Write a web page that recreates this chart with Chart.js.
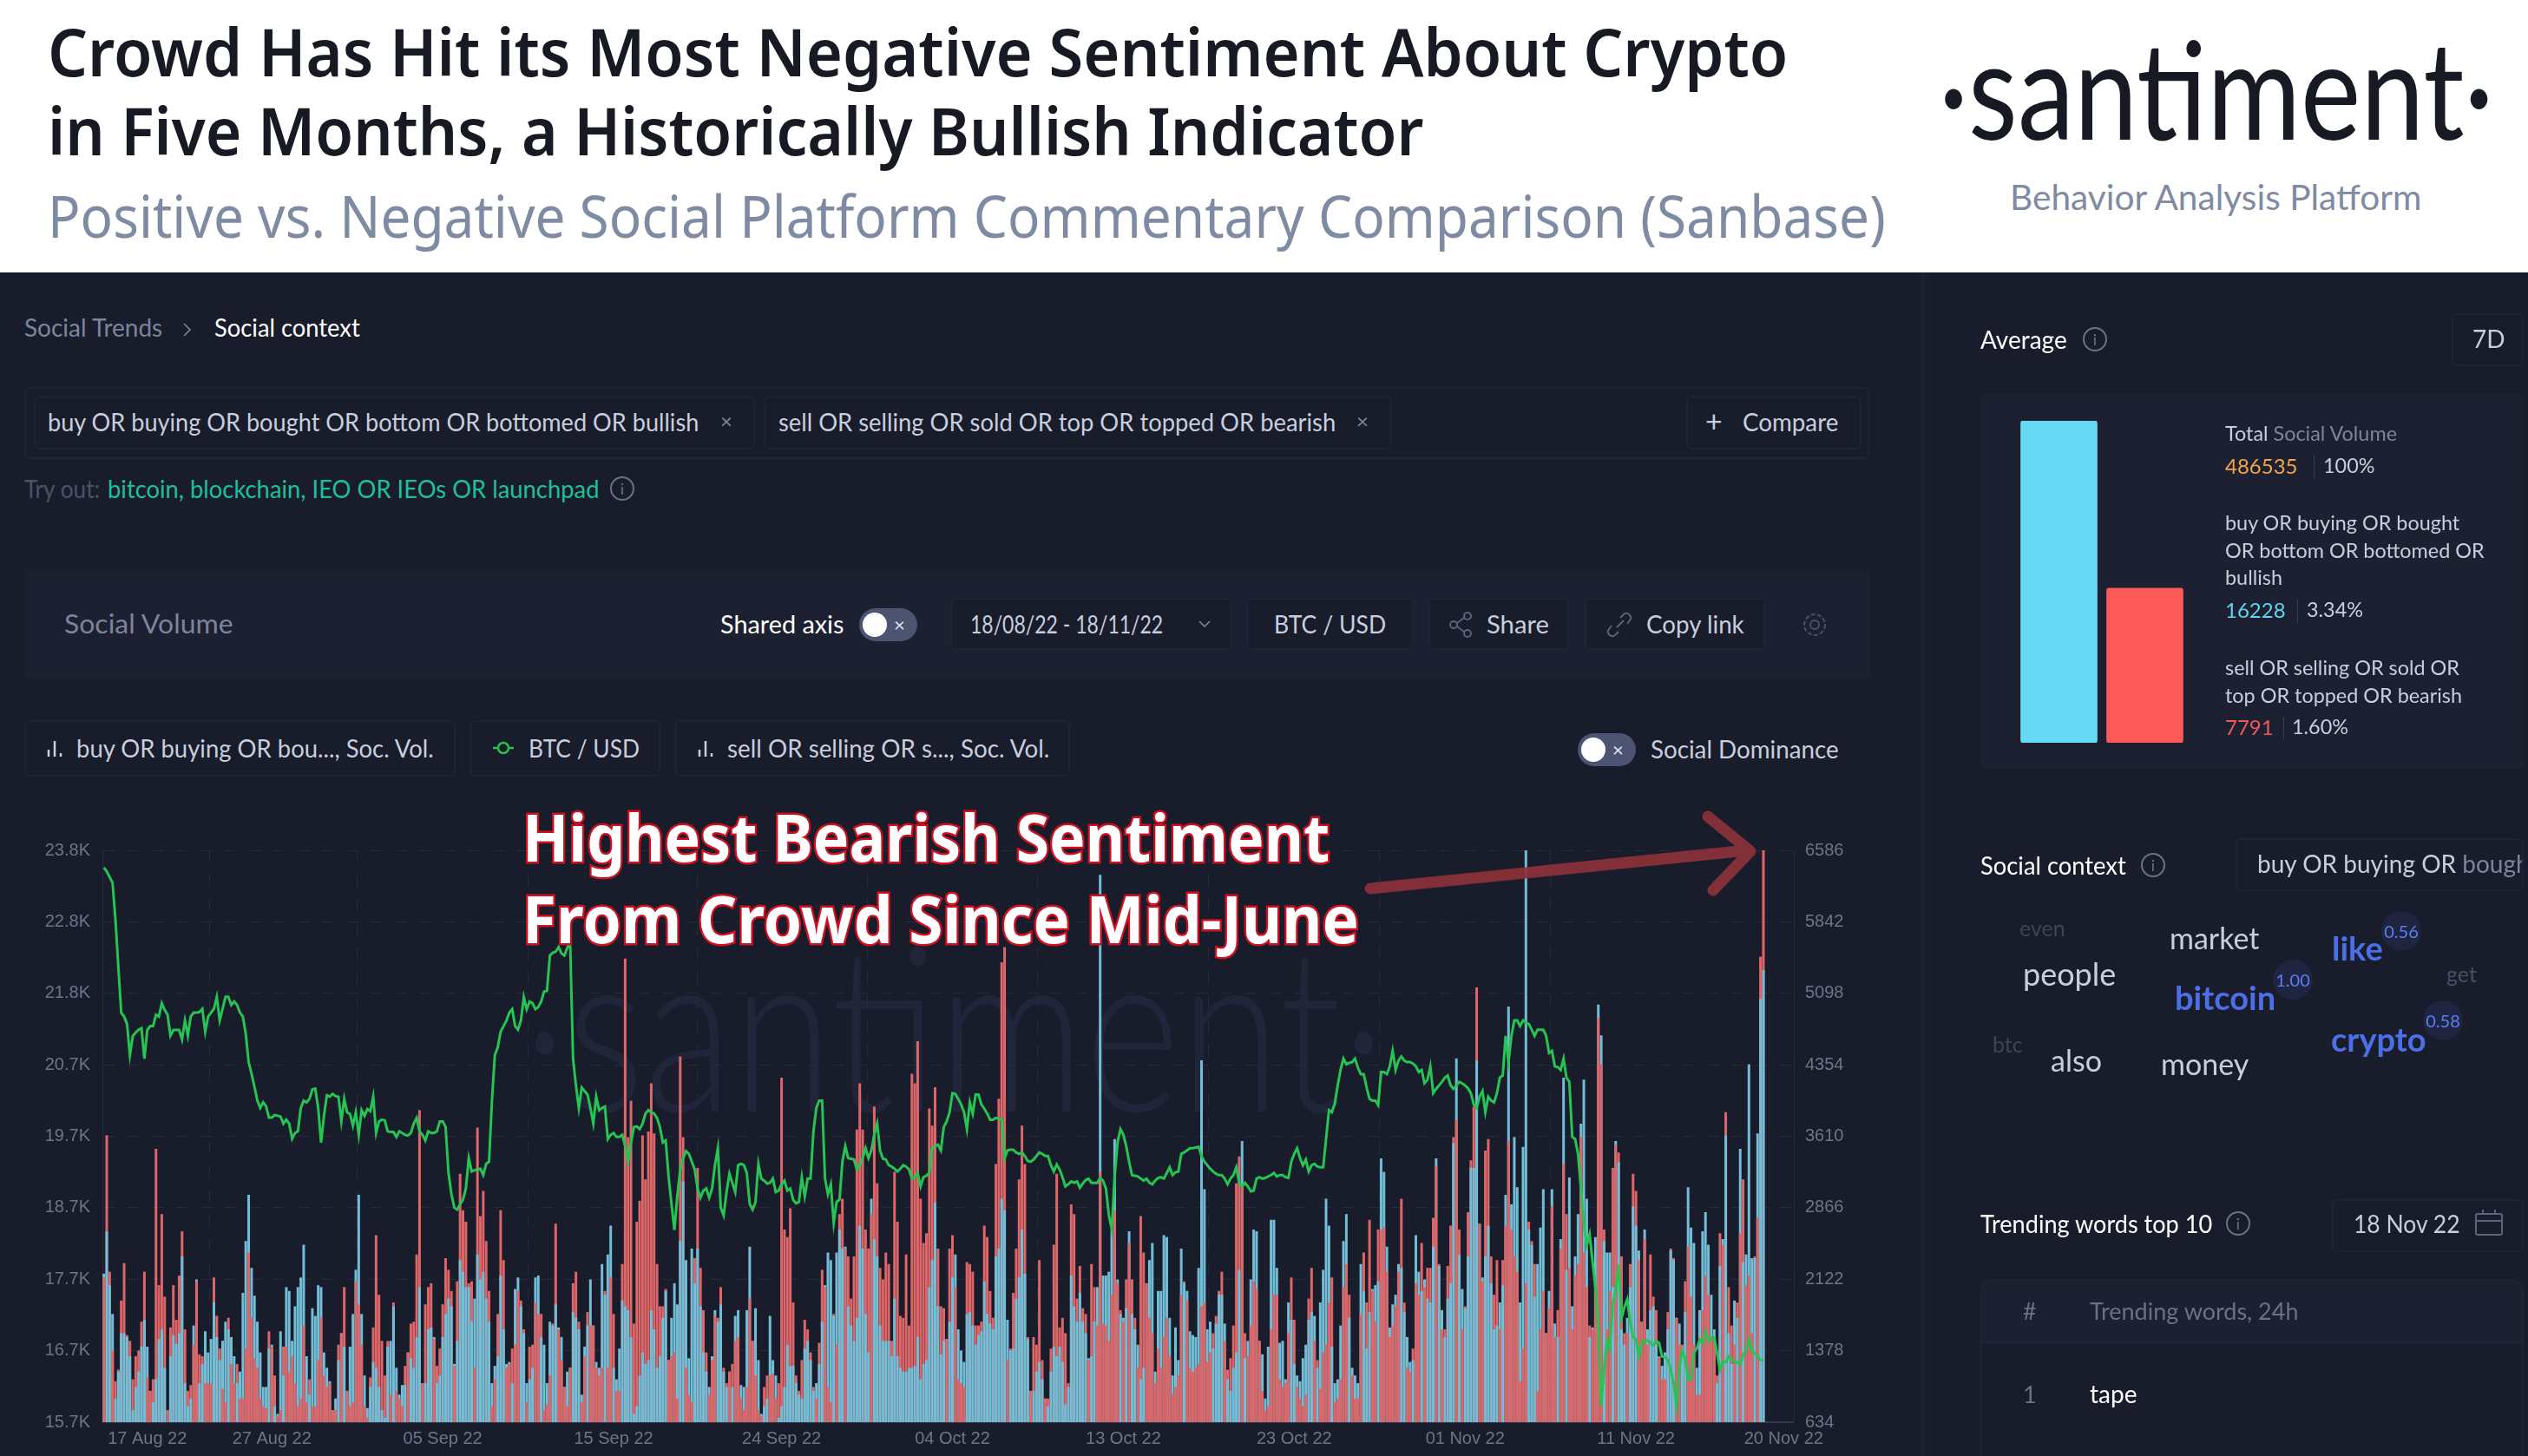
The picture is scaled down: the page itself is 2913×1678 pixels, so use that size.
<!DOCTYPE html>
<html>
<head>
<meta charset="utf-8">
<title>Crowd Has Hit its Most Negative Sentiment About Crypto</title>
<script src="https://cdn.jsdelivr.net/npm/chart.js@4"></script>
<style>
html, body { margin: 0; padding: 0; }
body { width: 2913px; height: 1678px; position: relative; overflow: hidden; background: #181c2b; font-family: Lato, sans-serif; color: #fff; }
.t { position: absolute; white-space: nowrap; line-height: 1; transform: translateY(calc(-50% - 2px)); transform-origin: left center; }
.box { position: absolute; box-sizing: border-box; border: 2px solid #1f2435; border-radius: 6px; }
.fill { position: absolute; }
.info { position: absolute; width: 28px; height: 28px; box-sizing: border-box; border: 2px solid #6b7187; border-radius: 50%; color: #6b7187; font-size: 18px; line-height: 24px; text-align: center; transform: translate(-50%, -50%); }
.toggle { position: absolute; width: 67px; height: 38px; border-radius: 19px; background: #4d5472; transform: translateY(-50%); }
.toggle:before { content: ""; position: absolute; left: 4px; top: 5px; width: 28px; height: 28px; border-radius: 50%; background: #fff; }
.toggle:after { content: "×"; position: absolute; left: 40px; top: 7px; font-size: 22px; line-height: 24px; color: #e3e6ef; }
.badge { position: absolute; width: 46px; height: 46px; border-radius: 50%; background: #1f2540; color: #5d7df0; font-size: 20px; line-height: 46px; text-align: center; transform: translate(-50%, -50%); }
.dim { color: #7d859c; }
.soft { color: #c9cede; }
.blue { color: #4c6fe8; font-weight: 700; }
svg { position: absolute; overflow: visible; }
canvas { position: absolute; }
</style>
</head>
<body>

<!-- white header -->
<div class="fill" style="left:0;top:0;width:2913px;height:314px;background:#fff"></div>
<div class="t" data-w="2005" style="left:55px;top:60px;font:600 76px 'Noto Sans';color:#171a22">Crowd Has Hit its Most Negative Sentiment About Crypto</div>
<div class="t" data-w="1585" style="left:55px;top:151px;font:600 76px 'Noto Sans';color:#171a22">in Five Months, a Historically Bullish Indicator</div>
<div class="t" data-w="2118" style="left:55px;top:249px;font:400 68px 'Noto Sans';color:#7f8ba3">Positive vs. Negative Social Platform Commentary Comparison (Sanbase)</div>
<div class="t" data-w="640" style="left:2234px;top:102px;font:400 158px Lato;color:#171a22">·santiment·</div>
<div class="t" data-w="474" style="left:2316px;top:229px;font:400 40px Lato;color:#7f8ba3">Behavior Analysis Platform</div>

<!-- left column -->
<div class="fill" style="left:2215px;top:314px;width:2px;height:1364px;background:#1e2232"></div>
<div class="t dim" style="left:28px;top:379px;font-size:28px">Social Trends</div>
<svg style="left:210px;top:372px" width="12" height="16" fill="none" stroke="#7d859c" stroke-width="1.6"><path d="M2 1l7 7-7 7"/></svg>
<div class="t" data-w="168" style="left:247px;top:379px;font-size:28px">Social context</div>

<div class="box" style="left:28px;top:446px;width:2126px;height:83px"></div>
<div class="box" style="left:39px;top:456px;width:831px;height:62px"></div>
<div class="t soft" data-w="750" style="left:55px;top:488px;font-size:28px">buy OR buying OR bought OR bottom OR bottomed OR bullish</div>
<div class="t dim" style="left:830px;top:487px;font-size:24px">×</div>
<div class="box" style="left:880px;top:456px;width:724px;height:62px"></div>
<div class="t soft" data-w="642" style="left:897px;top:488px;font-size:28px">sell OR selling OR sold OR top OR topped OR bearish</div>
<div class="t dim" style="left:1563px;top:487px;font-size:24px">×</div>
<div class="box" style="left:1943px;top:456px;width:202px;height:62px"></div>
<div class="t soft" style="left:1965px;top:487px;font-size:34px">+</div>
<div class="t soft" data-w="110" style="left:2008px;top:488px;font-size:28px">Compare</div>

<div class="t" data-w="87" style="left:28px;top:565px;font-size:28px;color:#4d5367">Try out:</div>
<div class="t" data-w="566" style="left:124px;top:565px;font-size:28px;color:#1fbf9b">bitcoin, blockchain, IEO OR IEOs OR launchpad</div>
<div class="info" style="left:717px;top:563px">i</div>

<div class="fill" style="left:28px;top:657px;width:2127px;height:124px;background:#1c2030"></div>
<div class="t dim" data-w="195" style="left:74px;top:720px;font-size:30px">Social Volume</div>
<div class="t" data-w="142" style="left:830px;top:721px;font-size:28px">Shared axis</div>
<div class="toggle" style="left:990px;top:720px"></div>
<div class="box" style="left:1095px;top:689px;width:324px;height:60px;background:#181c2b"></div>
<div class="t soft" data-w="222" style="left:1118px;top:721px;font-size:28px">18/08/22 - 18/11/22</div>
<svg style="left:1381px;top:715px" width="14" height="9" fill="none" stroke="#7d859c" stroke-width="1.6"><path d="M1 1l6 6 6-6"/></svg>
<div class="box" style="left:1437px;top:689px;width:192px;height:60px;background:#181c2b"></div>
<div class="t soft" data-w="129" style="left:1468px;top:721px;font-size:28px">BTC / USD</div>
<div class="box" style="left:1646px;top:689px;width:162px;height:60px;background:#181c2b"></div>
<svg style="left:1670px;top:705px" width="28" height="30" fill="none" stroke="#5d6379" stroke-width="2"><circle cx="21" cy="5" r="4"/><circle cx="5" cy="15" r="4"/><circle cx="21" cy="25" r="4"/><path d="M9 13l8-6M9 17l8 6"/></svg>
<div class="t soft" data-w="72" style="left:1713px;top:721px;font-size:28px">Share</div>
<div class="box" style="left:1826px;top:689px;width:208px;height:60px;background:#181c2b"></div>
<svg style="left:1851px;top:705px" width="30" height="30" fill="none" stroke="#5d6379" stroke-width="2"><path d="M12 18l8-8M6 16l-3 4a5 5 0 0 0 7 7l4-4M24 14l3-4a5 5 0 0 0-7-7l-4 4"/></svg>
<div class="t soft" data-w="113" style="left:1897px;top:721px;font-size:28px">Copy link</div>
<svg style="left:2076px;top:705px" width="30" height="30" fill="none" stroke="#4b5066" stroke-width="2"><circle cx="15" cy="15" r="5"/><circle cx="15" cy="15" r="12" stroke-dasharray="5 2.4"/></svg>

<div class="box" style="left:28px;top:830px;width:497px;height:65px"></div>
<svg style="left:54px;top:852px" width="18" height="20" stroke="#c9cede" stroke-width="2.5"><path d="M2 20v-8M9 20V2M16 20v-4"/></svg>
<div class="t soft" data-w="412" style="left:88px;top:864px;font-size:28px">buy OR buying OR bou..., Soc. Vol.</div>
<div class="box" style="left:542px;top:830px;width:219px;height:65px"></div>
<svg style="left:568px;top:852px" width="24" height="20" fill="none" stroke="#26c14f" stroke-width="2.5"><circle cx="12" cy="10" r="6"/><path d="M0 10h6M18 10h6"/></svg>
<div class="t soft" data-w="128" style="left:609px;top:864px;font-size:28px">BTC / USD</div>
<div class="box" style="left:778px;top:830px;width:455px;height:65px"></div>
<svg style="left:804px;top:852px" width="18" height="20" stroke="#c9cede" stroke-width="2.5"><path d="M2 20v-8M9 20V2M16 20v-4"/></svg>
<div class="t soft" data-w="371" style="left:838px;top:864px;font-size:28px">sell OR selling OR s..., Soc. Vol.</div>
<div class="toggle" style="left:1818px;top:864px"></div>
<div class="t soft" data-w="217" style="left:1902px;top:865px;font-size:28px">Social Dominance</div>

<!-- watermark sits under the transparent canvas -->
<div class="t" data-w="995" style="left:602px;top:1180px;font:300 265px Lato;color:#20253a">·santiment·</div>
<canvas id="volume-chart" style="left:0;top:940px" width="2213" height="738"></canvas>

<!-- annotation -->
<div class="t" data-w="930" style="left:602px;top:965px;font:700 76px 'Noto Sans';color:#fff;-webkit-text-stroke:5px #cf1020;paint-order:stroke fill">Highest Bearish Sentiment</div>
<div class="t" data-w="964" style="left:602px;top:1059px;font:700 76px 'Noto Sans';color:#fff;-webkit-text-stroke:5px #cf1020;paint-order:stroke fill">From Crowd Since Mid-June</div>
<svg style="left:0;top:0;opacity:.93" width="2913" height="1678" fill="none" stroke="#8b3039" stroke-width="13" stroke-linecap="round" stroke-linejoin="round"><path d="M1579 1024L2014 980M1968 941L2017 981L1974 1026"/></svg>

<!-- right column -->
<div class="t" style="left:2282px;top:393px;font-size:28px">Average</div>
<div class="info" style="left:2414px;top:391px">i</div>
<div class="box" style="left:2825px;top:361px;width:83px;height:61px"></div>
<div class="t soft" style="left:2849px;top:392px;font-size:28px">7D</div>
<div class="fill" style="left:2282px;top:454px;width:626px;height:432px;background:#1c2030;border-radius:6px"></div>
<canvas id="average-chart" style="left:2323px;top:485px" width="198" height="371"></canvas>
<div class="t" style="left:2564px;top:502px;font-size:23.4px"><span class="soft">Total</span> <span class="dim">Social Volume</span></div>
<div class="t" style="left:2564px;top:539px;font-size:24px;color:#f0a54c">486535</div>
<div class="fill" style="left:2666px;top:525px;width:1px;height:26px;background:#3a3f54"></div>
<div class="t soft" style="left:2677px;top:539px;font-size:23.4px">100%</div>
<div class="t soft" style="left:2564px;top:605px;font-size:23.4px">buy OR buying OR bought</div>
<div class="t soft" style="left:2564px;top:637px;font-size:23.4px">OR bottom OR bottomed OR</div>
<div class="t soft" style="left:2564px;top:668px;font-size:23.4px">bullish</div>
<div class="t" style="left:2564px;top:705px;font-size:24px;color:#5fd5f0">16228</div>
<div class="fill" style="left:2647px;top:691px;width:1px;height:26px;background:#3a3f54"></div>
<div class="t soft" style="left:2658px;top:705px;font-size:23.4px">3.34%</div>
<div class="t soft" style="left:2564px;top:772px;font-size:23.4px">sell OR selling OR sold OR</div>
<div class="t soft" style="left:2564px;top:804px;font-size:23.4px">top OR topped OR bearish</div>
<div class="t" style="left:2564px;top:840px;font-size:24px;color:#ef5a5a">7791</div>
<div class="fill" style="left:2631px;top:826px;width:1px;height:26px;background:#3a3f54"></div>
<div class="t soft" style="left:2641px;top:840px;font-size:23.4px">1.60%</div>

<div class="t" data-w="168" style="left:2282px;top:999px;font-size:28px">Social context</div>
<div class="info" style="left:2481px;top:997px">i</div>
<div class="box" style="left:2576px;top:966px;width:332px;height:61px;overflow:hidden">
  <div class="t soft" style="left:23px;top:29px;font-size:28px">buy OR buying OR <span style="color:#7d859c">bought</span></div>
</div>
<div class="t" style="left:2327px;top:1071px;font-size:25px;color:#3e4357">even</div>
<div class="t soft" style="left:2500px;top:1083px;font-size:34px">market</div>
<div class="t soft" style="left:2331px;top:1124px;font-size:36px">people</div>
<div class="t blue" style="left:2506px;top:1151px;font-size:38px">bitcoin</div>
<div class="t blue" style="left:2687px;top:1094px;font-size:38px">like</div>
<div class="t" style="left:2819px;top:1124px;font-size:25px;color:#4a4f63">get</div>
<div class="t blue" style="left:2686px;top:1199px;font-size:38px">crypto</div>
<div class="t" style="left:2296px;top:1205px;font-size:25px;color:#3e4357">btc</div>
<div class="t soft" style="left:2363px;top:1224px;font-size:34px">also</div>
<div class="t soft" style="left:2490px;top:1228px;font-size:34px">money</div>
<div class="badge" style="left:2767px;top:1073px">0.56</div>
<div class="badge" style="left:2642px;top:1129px">1.00</div>
<div class="badge" style="left:2815px;top:1176px">0.58</div>

<div class="t" data-w="267" style="left:2282px;top:1412px;font-size:28px">Trending words top 10</div>
<div class="info" style="left:2579px;top:1410px">i</div>
<div class="box" style="left:2687px;top:1382px;width:221px;height:61px"></div>
<div class="t soft" data-w="123" style="left:2712px;top:1412px;font-size:28px">18 Nov 22</div>
<svg style="left:2852px;top:1394px" width="32" height="30" fill="none" stroke="#5d6379" stroke-width="2"><rect x="1" y="5" width="30" height="24" rx="2"/><path d="M1 13h30M9 0v5M23 0v5"/></svg>
<div class="box" style="left:2282px;top:1474px;width:626px;height:230px;border-radius:14px"></div>
<div class="fill" style="left:2284px;top:1476px;width:622px;height:70px;background:#1c2030;border-radius:12px 12px 0 0"></div>
<div class="fill" style="left:2284px;top:1546px;width:622px;height:2px;background:#20253a"></div>
<div class="t dim" style="left:2331px;top:1512px;font-size:27px;color:#6b7187">#</div>
<div class="t dim" style="left:2408px;top:1512px;font-size:27px;color:#6b7187">Trending words, 24h</div>
<div class="t dim" style="left:2331px;top:1608px;font-size:27px;color:#6b7187">1</div>
<div class="t" style="left:2408px;top:1608px;font-size:28px">tape</div>

<script>
// Bar volume, buy-side query
const buyVolume = [
  // 17 Aug - 27 Aug
  2180,2620,2060,1760,880,1160,1560,1560,1520,1320,
  760,1000,1160,1420,1700,1420,960,840,1080,1500,
  1600,1200,760,1320,1540,1450,1560,2360,1040,800,
  880,1640,2120,1040,1240,1580,1360,1500,1880,1520,
  1280,1480,1680,1600,1520,1320,1040,1160,1980,2520,
  3000,2240,1950,1680,1360,1000,1000,1400,1440,800,
  720,1580,1120,2040,2000,1480,1840,2040,2140,2480,
  1320,920,1820,1740,2060,2040,1360,1200,1060,760,
  880,1280,1560,1420,960,1420,1760,2220,3000,1760,
  1120,780,1000,1260,1200,1000,
  // 05 Sep
  760,680,1420,1480,1840,1200,920,1020,1020,1360,
  1300,1200,1520,2040,1040,1040,1600,1620,1520,1040,
  1120,1520,1760,1920,1840,1240,1480,2320,2200,2040,
  2040,1680,1920,2380,2120,2200,1920,1680,1040,1220,
  1320,2160,1600,1240,1260,1040,2020,2140,1840,1560,
  1040,1080,1200,2140,2160,1520,1440,1040,1680,1640,
  1860,1620,1520,1000,1160,1200,1780,1720,1600,920,
  1420,1640,2120,1640,1260,1200,2280,1960,2380,2680,
  1200,1080,1400,1900,1840,1800,1520,720,800,1120,
  1360,1240,1280,
  // 15 Sep - 24 Sep
  1800,1600,1200,1320,1720,2000,1280,1720,2080,1860,
  2520,3140,2320,1300,2440,2080,2440,1840,1360,1160,
  1000,1320,1800,1680,1860,1160,1000,1160,1000,1740,
  1800,1020,1000,1800,2460,1480,1820,1280,720,800,
  880,1740,1280,1120,680,800,1000,1440,1220,1220,
  1040,920,880,1400,1480,1280,960,1040,1240,1680,
  2060,2400,2320,1740,2400,2640,2440,2460,1840,1640,
  1480,1720,2680,2440,1760,1360,2960,2540,2360,1640,
  1480,1480,1480,1320,1920,1320,1200,1160,1160,1200,
  1200,1220,1520,1080,1240,1280,
  // 04 Oct - 13 Oct
  2040,2320,2920,1840,1340,1480,1500,1680,2140,2380,
  1600,1380,1260,1760,1780,1640,1440,1540,1580,2100,
  1760,1660,1600,2360,2440,2960,2840,1700,1380,1400,
  1920,2140,2640,2180,1500,960,960,1160,1260,1080,
  880,800,1160,1420,1320,1420,1260,820,1000,2160,
  1840,1680,1980,1680,1560,1300,1320,1680,2040,6330,
  2160,2160,2200,2640,3580,2120,1760,1720,1820,2620,
  1760,1600,1440,1080,1200,2080,2320,2500,1160,2000,
  2000,2580,2560,1720,1120,1620,1280,2440,2080,2000,
  1580,1540,1520,2240,4400,3060,
  // 23 Oct - 01 Nov
  1600,1680,1400,1660,1960,1960,1660,1080,960,1200,
  1360,2220,3560,1300,1480,2120,2640,2620,1480,1340,
  880,1420,2740,2740,2240,1460,1480,1080,1880,1700,
  1240,1120,1060,1300,1440,1700,1780,1740,1200,1880,
  2220,2960,2680,1420,1040,1080,1640,2520,2800,1720,
  1200,1120,1040,2280,2000,1400,1780,2020,2060,2100,
  3380,3240,2460,1620,1860,1960,2280,2240,1780,1520,
  1260,1280,2580,2200,2000,2120,1920,1880,2460,3380,
  2260,1800,1520,1920,2080,3540,4420,2380,2020,1820,
  2360,3280,3280,4400,2700,2140,
  // 11 Nov - 18 Nov
  2360,2680,2080,1600,1640,1880,2060,3000,4960,2900,
  3600,3080,1880,3500,6586,2640,2480,1940,2280,2660,
  3060,1560,2000,3060,1660,1520,2540,4220,2220,3180,
  1840,2360,2800,3740,4200,2960,1520,1620,2560,4980,
  4660,2520,2400,2400,2040,3560,3340,1600,1440,1720,
  2040,2880,2680,2420,1680,2640,1600,1800,1840,1440,
  1320,1220,1360,1600,2420,2320,1720,1660,1400,1780,
  3080,2660,2500,1200,1800,2620,2820,2480,1960,1600,
  1040,2260,2540,3620,1560,1240,1900,1720,3480,2300,
  2380,4360,2340,2340,3640,5040,5340
];

// Bar volume, sell-side query
const sellVolume = [
  2140,3620,2200,1380,1060,1180,1900,2290,1540,1480,
  1080,1320,1380,1680,2200,1100,960,1080,3480,2060,
  2800,1940,760,1620,2060,1700,2160,2620,1600,960,
  1020,1440,2100,1340,1320,1040,1040,1040,2140,1740,
  1400,980,840,1720,1240,1040,1240,880,880,1400,
  2400,1720,1300,1200,880,800,780,1580,1420,1120,
  700,760,1420,1420,1160,1320,1040,800,880,1640,
  840,1080,800,800,1280,1720,1120,1000,1040,760,
  760,1440,1560,2040,960,800,840,2100,1860,1440,
  800,680,1100,1620,2580,1960,

  1480,1120,1480,920,1880,960,880,800,1220,1360,
  1660,1680,2380,3880,1040,1860,2040,2080,1500,1220,
  1400,1860,2340,2220,2000,1220,2100,3220,2840,2720,
  2080,2100,1200,3700,2780,3040,2520,2000,800,1080,
  1760,2840,2320,1200,1240,1400,1440,2000,1900,1600,
  840,1420,1440,1880,1760,1760,760,820,1120,1660,
  2700,1600,1280,1000,800,1200,2080,2200,1680,840,
  1320,1780,1640,1640,1200,1120,1200,2000,1200,2140,
  1760,960,960,2280,5460,3600,3980,1660,2720,2940,
  3620,3160,3660,

  4160,3640,2280,1840,1840,2020,1280,1320,1360,880,
  4440,3600,1200,920,840,2340,3280,2240,1800,1360,
  920,1280,1740,1720,2040,1200,1040,1160,1240,1480,
  1520,880,760,1000,1920,1480,1120,760,700,1000,
  1120,1120,1140,880,1040,4220,2640,2560,2860,1880,
  1120,960,1280,1700,1600,1360,1000,880,1460,2220,
  2040,1000,840,1760,1440,2800,2960,2440,2360,1920,
  2360,3680,4160,3680,2640,2440,2800,3920,3120,2240,
  2120,2400,2280,1480,3240,2720,1740,1720,2380,1640,
  4260,4160,4600,2960,2500,2600,

  3900,3720,4120,2440,1840,1820,1500,2440,2580,2040,
  1080,1040,1000,2300,2280,2200,1640,1640,1680,2680,
  2560,2000,1720,3320,4000,5420,5580,1280,1400,1980,
  2440,3160,3720,3320,1520,960,1520,1440,2320,1280,
  880,880,1400,2480,3220,1620,1720,1560,1040,2900,
  2800,1920,2260,1820,1760,1280,2280,2040,1640,3240,
  1660,1640,1480,1960,2840,2080,1800,1680,2120,2500,
  2120,1720,1200,2780,2400,2080,1720,1560,1040,1400,
  1200,1520,1720,1320,920,1000,1120,1960,2100,1900,
  1200,1160,1200,1240,1840,1880,

  1260,1360,1560,1740,2000,2200,1480,1180,1300,1640,
  3120,3400,3120,1560,1320,1640,2100,2020,1480,960,
  760,800,1600,1960,1960,1080,1000,1040,1560,2140,
  1700,1000,880,800,920,1920,2240,1480,1280,980,
  1360,1440,1880,2140,840,880,1080,2040,2280,1960,
  1120,880,880,1760,2400,1880,2740,2000,1680,2640,
  2640,2660,2200,1520,1640,1840,2200,2960,1880,1200,
  1160,1400,2080,1960,2500,2040,2240,2240,2760,3300,
  2280,1600,1600,2260,2680,3600,3780,2640,1600,1840,
  2820,3360,3920,5160,2700,2100,

  3460,3580,2360,1960,2320,1600,2320,2680,3560,2640,
  2360,2200,1060,1400,2080,2720,2520,2280,960,1600,
  2000,1560,1820,2880,1520,1800,2440,3320,2800,2240,
  1600,2160,2280,3600,2400,2040,1640,1600,2000,4840,
  4360,2640,1600,2000,3280,3520,3440,2360,1560,1560,
  2280,3220,3040,2320,1680,2540,1440,2380,1940,1800,
  1320,1080,1080,1780,2440,2340,1720,1440,1440,2100,
  2460,1940,1440,920,920,1800,2160,1960,1520,1480,
  1120,2600,2480,3860,2040,1640,1440,1880,2600,3160,
  2060,2160,1560,2360,2760,5480,6586
];

// BTC / USD price
const btcPrice = [
  23555,23500,23420,23340,22825,22150,21500,21445,21340,20900,
  21170,21220,21260,21280,20850,21255,21310,21310,21470,21445,
  21635,21540,21470,21175,21255,21255,21255,21120,21390,21175,
  21445,21500,21500,21510,21555,21230,21445,21500,21555,21725,
  21390,21555,21725,21725,21610,21660,21610,21500,21445,21200,
  20800,20635,20450,20255,20150,20230,20175,20015,20015,20050,
  20040,20030,19930,19985,19930,19715,19795,19820,20150,20255,
  20230,20280,20415,20425,20150,19660,20040,20330,20310,20350,
  20320,20310,19960,20280,20090,20065,19900,20090,19770,20120,
  20040,20135,20105,20310,19795,19960,

  19985,19975,19820,19810,19810,19740,19820,19795,19770,19760,
  19795,19930,20010,19820,19770,19690,19820,19795,19795,19820,
  19960,19960,19880,19230,18930,18740,18710,18790,18850,19010,
  19440,19250,19270,19280,19290,19200,19360,19390,20255,20900,
  21010,21230,21310,21390,21500,21550,21310,21260,21390,21720,
  21550,21660,21635,21550,21580,21660,21800,21810,22310,22350,
  22365,22430,22340,22310,22420,22500,20850,20470,20150,20440,
  20390,20340,20150,19930,20310,20120,20150,20170,19710,19770,
  19795,19740,19740,19770,19610,19390,19660,19880,19890,19850,
  19930,20070,20120,

  20090,20070,20010,19880,19660,19690,19170,18790,18420,18900,
  19280,19440,19540,19500,19390,19280,19010,18880,18980,19010,
  18880,19010,19340,19580,18740,18630,18960,19220,19090,18960,
  19340,19360,19340,19230,18790,18710,18820,19360,19150,19120,
  19080,19090,19150,18960,18980,19070,19120,18980,19010,18850,
  18800,18820,19170,18900,19150,19150,19820,20150,20255,20255,
  19150,18930,19070,18520,18820,18850,19390,19610,19440,19430,
  19420,19280,19340,19440,19580,19440,19550,19770,19930,19550,
  19430,19420,19340,19320,19290,19250,19290,19340,19320,19280,
  19150,19170,19230,19040,19170,19190,

  19230,19580,19610,19630,19550,19880,19960,20090,20360,20350,
  20280,20200,20090,19850,20230,20070,20340,20340,20200,20140,
  20070,19985,19985,20010,20000,19985,19440,19550,19560,19560,
  19520,19500,19520,19470,19400,19390,19420,19470,19520,19500,
  19470,19470,19340,19250,19350,19280,19170,19040,19070,19110,
  19090,19110,19020,19080,19130,19150,19090,19090,19090,19160,
  19120,19010,18630,18440,19170,19660,19850,19770,19610,19390,
  19200,19190,19180,19150,19120,19150,19090,19070,19120,19160,
  19170,19150,19230,19310,19200,19240,19250,19500,19520,19550,
  19580,19580,19590,19600,19470,19390,

  19340,19290,19250,19220,19200,19200,19150,19070,19150,19200,
  19310,19090,19040,19090,19040,18970,18980,19150,19170,19150,
  19160,19180,19200,19230,19180,19200,19200,19170,19160,19390,
  19500,19580,19440,19340,19420,19250,19340,19360,19320,19310,
  19310,19710,20120,20090,20210,20470,20690,20850,20770,20790,
  20800,20850,20720,20630,20630,20440,20280,20255,20255,20190,
  20660,20660,20630,20740,20960,20690,20820,20880,20820,20800,
  20800,20780,20740,20660,20690,20500,20550,20740,20360,20420,
  20470,20520,20580,20610,20470,20420,20470,20520,20500,20470,
  20430,20360,20200,20150,20310,20390,

  20090,20310,20255,20230,20360,20580,20610,21170,20800,21170,
  21390,21390,21310,21390,21360,21340,21260,21170,21260,21260,
  21260,21170,20930,20960,20740,20730,20690,20850,20580,20520,
  19740,19710,19500,19010,18520,18200,18360,17980,17600,17010,
  15930,16470,16850,16740,17390,17550,17930,17170,17330,17440,
  17120,16900,16870,16630,16820,16850,16860,16820,16790,16850,
  16820,16630,16620,16580,16440,16250,15930,16470,16710,16600,
  16310,16310,16680,16740,16870,16820,16980,16850,16900,16900,
  16680,16440,16550,16550,16630,16590,16550,16550,16520,16660,
  16710,16870,16710,16680,16630,16580,16580
];

// Axis labels as printed on the chart
const priceTicks = ['15.7K','16.7K','17.7K','18.7K','19.7K','20.7K','21.8K','22.8K','23.8K'];
const volumeTicks = ['634','1378','2122','2866','3610','4354','5098','5842','6586'];
const dateTicks = ['17 Aug 22','27 Aug 22','05 Sep 22','15 Sep 22','24 Sep 22','04 Oct 22','13 Oct 22','23 Oct 22','01 Nov 22','11 Nov 22','20 Nov 22'];
const dateTickSlots = [15,58,117,176,234,293,352,411,470,529,580];
const EMPTY_SLOTS_RIGHT = 10; // room after the last bar, before the right axis

// Right hand summary
const averageNames = ['buy OR buying OR bought OR bottom OR bottomed OR bullish', 'sell OR selling OR sold OR top OR topped OR bearish'];
const averageValues = [16228, 7791];

const BUY_COLOR = '#72bed7';
const SELL_COLOR = '#de6668';
const GRID_COLOR = '#262a3c';
const LABEL_COLOR = '#6f7589';

// Shrink a line of text to the width it has in the picture
document.querySelectorAll('.t[data-w]').forEach(el => {
    const k = Number(el.dataset.w) / el.offsetWidth;
    el.style.transform = `translateY(calc(-50% - 2px)) scaleX(${k})`;
});

// The shorter bar of each pair is drawn in front of the taller one
const slots = [...buyVolume, ...new Array(EMPTY_SLOTS_RIGHT).fill(null)].map((_, i) => i);
const tallBars = buyVolume.map((v, i) => Math.max(v, sellVolume[i]));
const shortBars = buyVolume.map((v, i) => Math.min(v, sellVolume[i]));
const tallColors = buyVolume.map((v, i) => v >= sellVolume[i] ? BUY_COLOR : SELL_COLOR);
const shortColors = buyVolume.map((v, i) => v >= sellVolume[i] ? SELL_COLOR : BUY_COLOR);

const axisFont = { family: 'Liberation Sans', size: 20 };

new Chart(document.getElementById('volume-chart'), {
    data: {
        labels: slots,
        datasets: [
            { type: 'line', label: 'BTC / USD', data: btcPrice, yAxisID: 'yPrice', borderColor: '#27c453', borderWidth: 3, pointRadius: 0, tension: 0, order: 1 },
            { type: 'bar', label: 'Social volume (shorter)', data: shortBars, yAxisID: 'yVolume', backgroundColor: shortColors, grouped: false, barPercentage: 0.9, categoryPercentage: 1, order: 2 },
            { type: 'bar', label: 'Social volume (taller)', data: tallBars, yAxisID: 'yVolume', backgroundColor: tallColors, grouped: false, barPercentage: 0.9, categoryPercentage: 1, order: 3 }
        ]
    },
    options: {
        responsive: false,
        animation: false,
        layout: { padding: { top: 40 } },
        plugins: { legend: { display: false }, tooltip: { enabled: false } },
        scales: {
            x: {
                afterBuildTicks: axis => { axis.ticks = dateTickSlots.map(value => ({ value })); },
                afterFit: axis => { axis.height = 39; },
                ticks: { autoSkip: false, maxRotation: 0, color: LABEL_COLOR, font: axisFont, padding: 7, callback: (v, i) => dateTicks[i] },
                grid: {
                    drawTicks: false,
                    color: ctx => (ctx.index === 0 || ctx.index === dateTicks.length - 1) ? 'transparent' : GRID_COLOR
                },
                border: { color: '#2f3650', width: 2, dash: [14, 14] }
            },
            yPrice: {
                position: 'left',
                min: 15700,
                max: 23800,
                afterFit: axis => { axis.width = 118; },
                ticks: { count: 9, color: LABEL_COLOR, font: axisFont, padding: 14, callback: (v, i) => priceTicks[i] },
                grid: { drawTicks: false, color: GRID_COLOR },
                border: { color: GRID_COLOR, dash: [14, 14] }
            },
            yVolume: {
                position: 'right',
                min: 634,
                max: 6586,
                afterFit: axis => { axis.width = 146; },
                ticks: { count: 9, color: LABEL_COLOR, font: axisFont, padding: 5, callback: (v, i) => volumeTicks[i] },
                grid: { display: false },
                border: { color: GRID_COLOR }
            }
        }
    }
});

new Chart(document.getElementById('average-chart'), {
    type: 'bar',
    data: {
        labels: averageNames,
        datasets: [{ data: averageValues, backgroundColor: ['#66daf5', '#ff5a5a'], barThickness: 88, borderRadius: 3, borderSkipped: false }]
    },
    options: {
        responsive: false,
        animation: false,
        plugins: { legend: { display: false }, tooltip: { enabled: false } },
        scales: {
            x: { display: false },
            y: { display: false, min: 0, max: averageValues[0] }
        }
    }
});
</script>
</body>
</html>
